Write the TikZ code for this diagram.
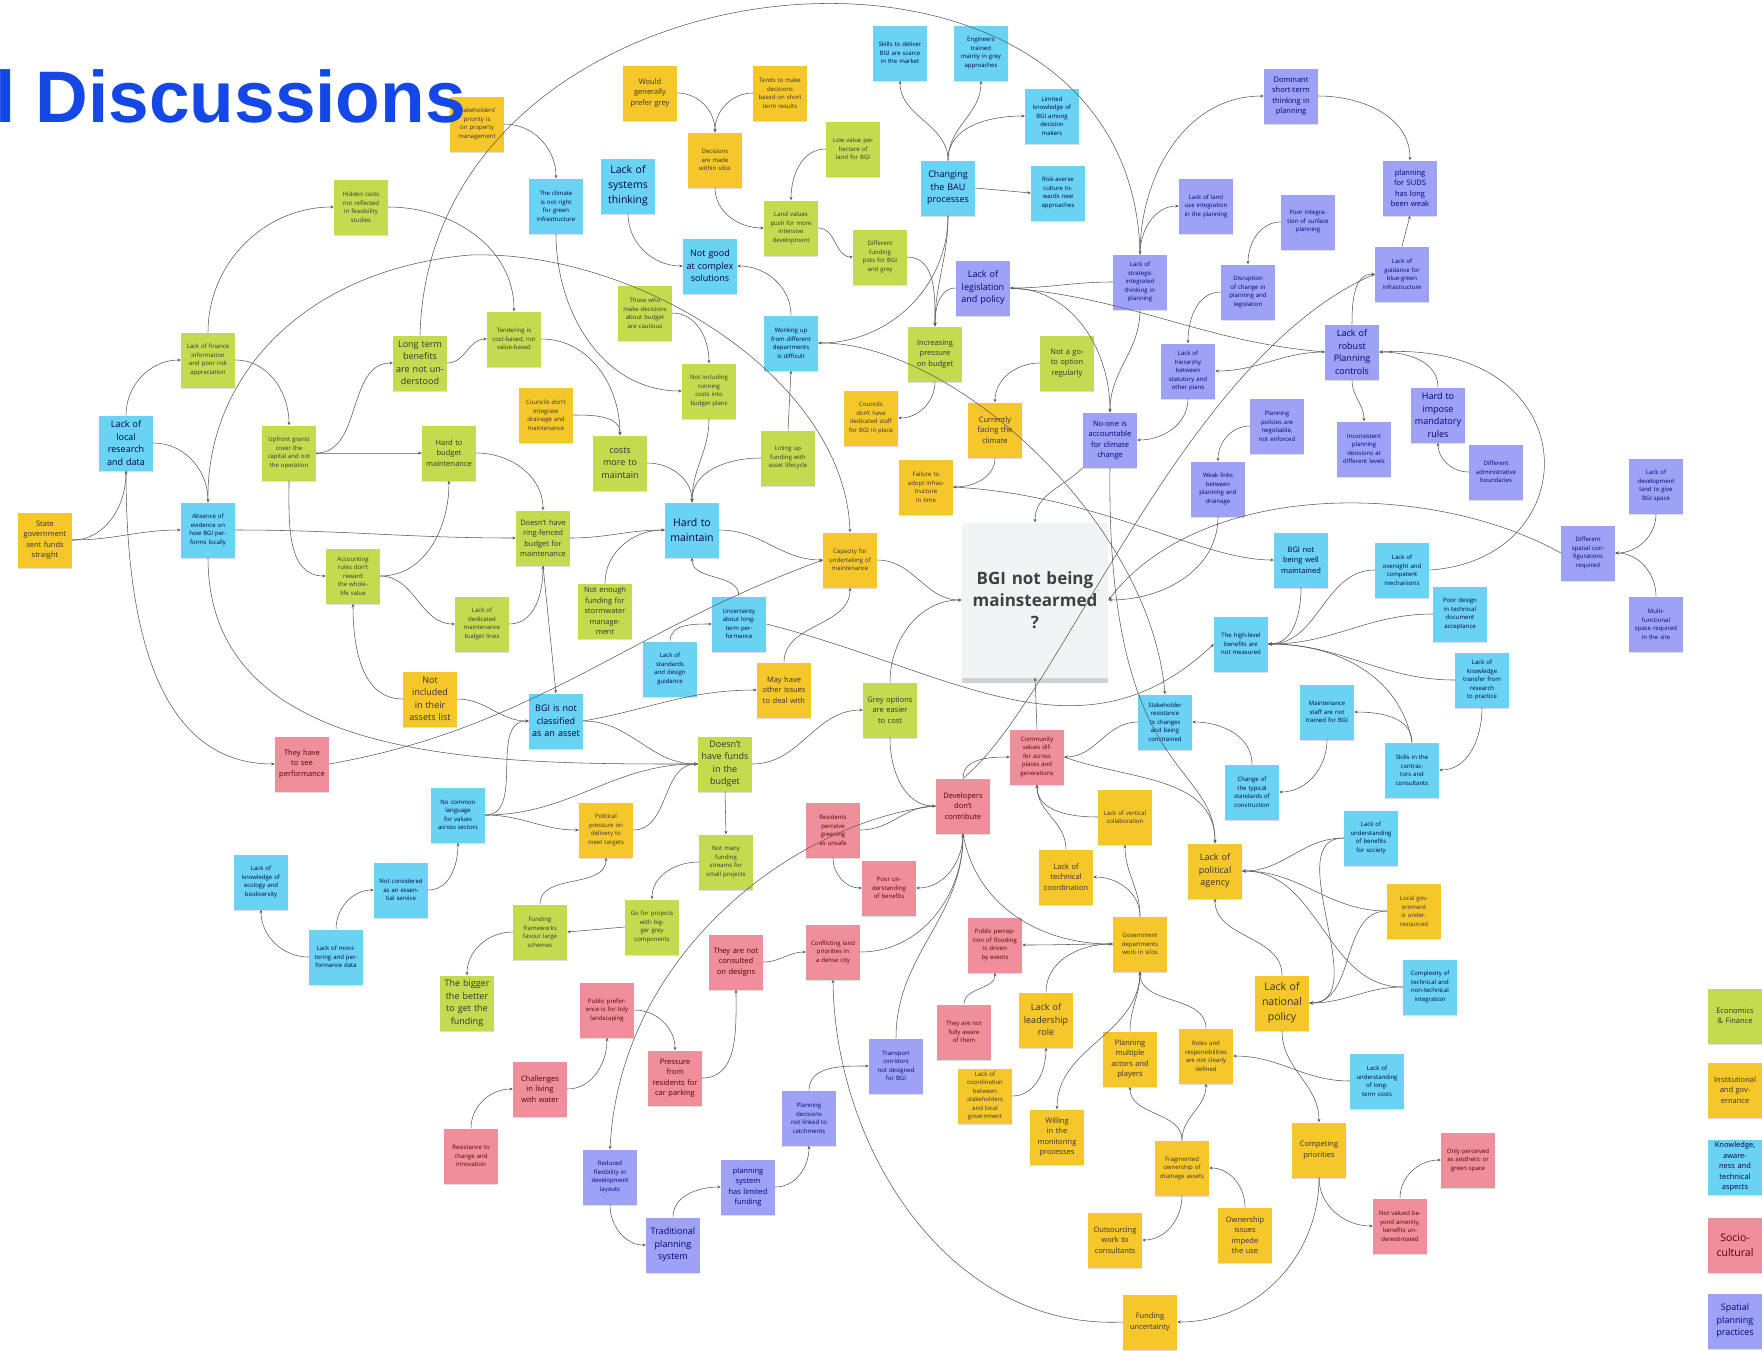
\documentclass[tikz,border=0pt]{standalone}
\usepackage{fontspec}
\setmainfont{Open Sans}
\newfontfamily\headfont{Liberation Sans}
\usetikzlibrary{arrows.meta,shadows}

\definecolor{ecogreen}{HTML}{C5DB4F}
\definecolor{instyellow}{HTML}{F6C72A}
\definecolor{knowblue}{HTML}{6AD3F4}
\definecolor{socpink}{HTML}{EF8F9B}
\definecolor{spatpurple}{HTML}{9EA2F4}
\definecolor{hubgrey}{HTML}{F2F3F5}
\definecolor{headblue}{HTML}{1447E6}
\definecolor{linkgrey}{HTML}{5A5A5A}

\begin{document}
\begin{tikzpicture}[
  x=1pt, y=-1pt,
  note/.style={rectangle, minimum width=54pt, minimum height=55pt, text width=44pt,
    align=center, inner sep=0pt, font=\fontsize{6}{8.5}\selectfont,
    drop shadow={shadow xshift=0pt, shadow yshift=-1.5pt, opacity=0.25}},
  eco/.style={note, fill=ecogreen, text=black!80},
  inst/.style={note, fill=instyellow, text=black!80},
  know/.style={note, fill=knowblue, text=blue!30!black},
  soc/.style={note, fill=socpink, text=red!35!black},
  spat/.style={note, fill=spatpurple, text=blue!50!black},
  txtm/.style={font=\fontsize{7.5}{10.5}\selectfont, text width=46pt},
  txtb/.style={font=\fontsize{9}{12.5}\selectfont, text width=48pt},
  txth/.style={font=\fontsize{10.5}{15}\selectfont, text width=50pt},
  hub/.style={rectangle, fill=hubgrey, minimum width=146pt, minimum height=155pt,
    text width=140pt, align=center, font=\bfseries\fontsize{17}{22}\selectfont, text=black!75,
    drop shadow={shadow xshift=0pt, shadow yshift=-5pt, opacity=0.35}},
  link/.style={draw=linkgrey, line width=0.55pt, -{Stealth[length=3.5pt,width=3pt]}},
]
\path[use as bounding box, fill=white] (0,0) rectangle (1762,1350);

\node[eco] (g1) at (361,207) {Hidden costs not reflected in feasibility studies};
\node[eco] (g2) at (208,360) {Lack of finance information and poor risk appreciation};
\node[eco,txtb] (g3) at (420,363) {Long term benefits are not understood};
\node[eco] (g4) at (289,453) {Upfront grants cover the capital and not the operation};
\node[eco,txtm] (g5) at (449,453) {Hard to budget maintenance};
\node[eco] (g6) at (514,339) {Tendering is cost-based, not value-based};
\node[eco] (g7) at (645,313) {Those who make decisions about budget are cautious};
\node[eco] (g8) at (709,391) {Not including running costs into budget plans};
\node[eco,txtb] (g9) at (620,463) {costs more to maintain};
\node[eco] (g10) at (788,458) {Lining up funding with asset lifecycle};
\node[eco] (g11) at (853,149) {Low value per hectare of land for BGI};
\node[eco] (g12) at (791,228) {Land values push for more intensive development};
\node[eco] (g13) at (880,257) {Different funding pots for BGI and grey};
\node[eco,txtm] (g14) at (935,354) {Increasing pressure on budget};
\node[eco,txtm] (g15) at (1067,363) {Not a go-to option regularly};
\node[eco,txtm] (g16) at (543,538) {Doesn't have ring-fenced budget for maintenance};
\node[eco] (g17) at (353,576) {Accounting rules don't reward the whole-life value};
\node[eco] (g18) at (482,624) {Lack of dedicated maintenance budget lines};
\node[eco,txtm] (g19) at (605,611) {Not enough funding for stormwater management};
\node[eco,txtb] (g20) at (725,764) {Doesn't have funds in the budget};
\node[eco,txtm] (g21) at (890,710) {Grey options are easier to cost};
\node[eco] (g22) at (726,862) {Not many funding streams for small projects};
\node[eco] (g23) at (652,927) {Go for projects with bigger grey components};
\node[eco] (g24) at (540,932) {Funding frameworks favour large schemes};
\node[eco,txtb] (g25) at (467,1003) {The bigger the better to get the funding};

\node[inst,txtm] (y1) at (45,540) {State government sent funds straight};
\node[inst] (y2) at (477,124) {Stakeholders' priority is on property management};
\node[inst,txtm] (y3) at (650,93) {Would generally prefer grey};
\node[inst] (y4) at (780,93) {Tends to make decisions based on short term results};
\node[inst] (y5) at (715,160) {Decisions are made within silos};
\node[inst] (y6) at (546,415) {Councils don't integrate drainage and maintenance};
\node[inst] (y7) at (871,418) {Councils don't have dedicated staff for BGI in place};
\node[inst,txtm] (y8) at (995,430) {Currently facing the climate};
\node[inst] (y9) at (926,487) {Failure to adopt infrastructure in time};
\node[inst] (y10) at (850,560) {Capacity for undertaking of maintenance};
\node[inst,txtb] (y11) at (430,699) {Not included in their assets list};
\node[inst,txtm] (y12) at (784,690) {May have other issues to deal with};
\node[inst] (y13) at (606,830) {Political pressure on delivery to meet targets};
\node[inst] (y14) at (1125,817) {Lack of vertical collaboration};
\node[inst,txtm] (y15) at (1066,877) {Lack of technical coordination};
\node[inst,txtb] (y16) at (1215,871) {Lack of political agency};
\node[inst] (y17) at (1414,911) {Local government is under-resourced};
\node[inst] (y18) at (1140,944) {Government departments work in silos};
\node[inst,txtb] (y19) at (1046,1020) {Lack of leadership role};
\node[inst] (y20) at (985,1096) {Lack of coordination between stakeholders and local government};
\node[inst,txtm] (y21) at (1130,1059) {Planning multiple actors and players};
\node[inst] (y22) at (1206,1056) {Roles and responsibilities are not clearly defined};
\node[inst,txth] (y23) at (1282,1003) {Lack of national policy};
\node[inst,txtm] (y24) at (1057,1137) {Willing in the monitoring processes};
\node[inst] (y25) at (1182,1168) {Fragmented ownership of drainage assets};
\node[inst,txtm] (y26) at (1319,1150) {Competing priorities};
\node[inst,txtm] (y27) at (1115,1240) {Outsourcing work to consultants};
\node[inst,txtm] (y28) at (1245,1235) {Ownership issues impede the use};
\node[inst,txtm] (y29) at (1150,1322) {Funding uncertainty};

\node[know,txtb] (b1) at (126,443) {Lack of local research and data};
\node[know] (b2) at (208,530) {Absence of evidence on how BGI performs locally};
\node[know] (b3) at (556,206) {The climate is not right for green infrastructure};
\node[know,txth] (b4) at (628,186) {Lack of systems thinking};
\node[know,txtb] (b5) at (710,266) {Not good at complex solutions};
\node[know] (b6) at (791,343) {Working up from different departments is difficult};
\node[know] (b7) at (900,53) {Skills to deliver BGI are scarce in the market};
\node[know] (b8) at (981,53) {Engineers trained mainly in grey approaches};
\node[know] (b9) at (1052,116) {Limited knowledge of BGI among decision makers};
\node[know,txtb] (b10) at (948,188) {Changing the BAU processes};
\node[know] (b11) at (1058,193) {Risk-averse culture towards new approaches};
\node[know,txth] (b12) at (692,530) {Hard to maintain};
\node[know] (b13) at (739,624) {Uncertainty about long-term performance};
\node[know] (b14) at (670,669) {Lack of standards and design guidance};
\node[know,txtb] (b15) at (556,721) {BGI is not classified as an asset};
\node[know] (b16) at (458,815) {No common language for values across sectors};
\node[know] (b17) at (261,882) {Lack of knowledge of ecology and biodiversity};
\node[know] (b18) at (401,890) {Not considered as an essential service};
\node[know] (b19) at (336,957) {Lack of monitoring and performance data};
\node[know,txtm] (b20) at (1301,560) {BGI not being well maintained};
\node[know] (b21) at (1241,644) {The high-level benefits are not measured};
\node[know] (b22) at (1165,722) {Stakeholder resistance to changes and being constrained};
\node[know] (b23) at (1252,792) {Change of the typical standards of construction};
\node[know] (b24) at (1402,570) {Lack of oversight and competent mechanisms};
\node[know] (b25) at (1460,614) {Poor design in technical document acceptance};
\node[know] (b26) at (1482,680) {Lack of knowledge transfer from research to practice};
\node[know] (b27) at (1327,712) {Maintenance staff are not trained for BGI};
\node[know] (b28) at (1412,770) {Skills in the contractors and consultants};
\node[know] (b29) at (1371,838) {Lack of understanding of benefits for society};
\node[know] (b30) at (1430,987) {Complexity of technical and non-technical integration};
\node[know] (b31) at (1377,1081) {Lack of understanding of long-term costs};

\node[soc,txtm] (p1) at (302,764) {They have to see performance};
\node[soc] (p2) at (1037,757) {Community values differ across places and generations};
\node[soc,txtm] (p3) at (963,806) {Developers don't contribute};
\node[soc] (p4) at (833,830) {Residents perceive greening as unsafe};
\node[soc] (p5) at (889,888) {Poor understanding of benefits};
\node[soc] (p6) at (995,945) {Public perception of flooding is driven by events};
\node[soc] (p7) at (964,1032) {They are not fully aware of them};
\node[soc,txtm] (p8) at (736,962) {They are not consulted on designs};
\node[soc] (p9) at (833,952) {Conflicting land priorities in a dense city};
\node[soc] (p10) at (607,1010) {Public preference is for tidy landscaping};
\node[soc,txtm] (p11) at (675,1078) {Pressure from residents for car parking};
\node[soc,txtm] (p12) at (540,1089) {Challenges in living with water};
\node[soc] (p13) at (471,1156) {Resistance to change and innovation};
\node[soc] (p14) at (1468,1160) {Only perceived as aesthetic or green space};
\node[soc] (p15) at (1400,1226) {Not valued beyond amenity, benefits underestimated};

\node[spat] (v1) at (1140,282) {Lack of strategic integrated thinking in planning};
\node[spat,txtb] (v2) at (983,288) {Lack of legislation and policy};
\node[spat] (v3) at (1206,206) {Lack of land use integration in the planning};
\node[spat,txtm] (v4) at (1291,96) {Dominant short-term thinking in planning};
\node[spat] (v5) at (1308,222) {Poor integration of surface planning};
\node[spat] (v6) at (1248,292) {Disruption of change in planning and legislation};
\node[spat] (v7) at (1188,371) {Lack of hierarchy between statutory and other plans};
\node[spat,txtm] (v8) at (1110,440) {No-one is accountable for climate change};
\node[spat] (v9) at (1277,426) {Planning policies are negotiable, not enforced};
\node[spat,txtm] (v10) at (1410,188) {planning for SUDS has long been weak};
\node[spat] (v11) at (1402,274) {Lack of guidance for blue-green infrastructure};
\node[spat,txtb] (v12) at (1352,352) {Lack of robust Planning controls};
\node[spat,txtb] (v13) at (1438,415) {Hard to impose mandatory rules};
\node[spat] (v14) at (1364,449) {Inconsistent planning decisions at different levels};
\node[spat] (v15) at (1496,472) {Different administrative boundaries};
\node[spat] (v16) at (1218,489) {Weak links between planning and drainage};
\node[spat] (v17) at (1656,486) {Lack of development land to give BGI space};
\node[spat] (v18) at (1588,553) {Different spatial configurations required};
\node[spat] (v19) at (1656,624) {Multi-functional space required in the site};
\node[spat] (v20) at (896,1066) {Transport corridors not designed for BGI};
\node[spat] (v21) at (809,1118) {Planning decisions not linked to catchments};
\node[spat] (v22) at (610,1177) {Reduced flexibility in development layouts};
\node[spat,txtm] (v23) at (748,1187) {planning system has limited funding};
\node[spat,txtb] (v24) at (673,1245) {Traditional planning system};

\node[eco,txtm] (leg1) at (1735,1016) {Economics \& Finance};
\node[inst,txtm] (leg2) at (1735,1090) {Institutional and governance};
\node[know,txtm] (leg3) at (1735,1167) {Knowledge, awareness and technical aspects};
\node[soc,txth] (leg4) at (1735,1245) {Socio-cultural};
\node[spat,txtb] (leg5) at (1735,1321) {Spatial planning practices};

\node[hub] (c) at (1035,600) {BGI not being\\mainstearmed\\?};

\draw[link] (g2.north) to[out=90,in=180] (g1.west);
\draw[link] (g1.east) to[out=0,in=90] (g6.north);
\draw[link] (g2.east) to[out=0,in=90] (g4.north);
\draw[link] (b1.north) to[out=90,in=180] (g2.west);
\draw[link] (b1.east) to[out=0,in=90] (b2.north);
\draw[link] (g3.north) .. controls (430,-60) and (1130,-120) .. (v1.north);
\draw[link] (b2.north) .. controls (205,380) and (300,270) .. (470,255) .. controls (640,250) and (845,380) .. (y10.north);
\draw[link] (y2.east) to[out=0,in=90] (b3.north);
\draw[link] (y3.east) to[out=0,in=90] (y5.north);
\draw[link] (y4.west) to[out=180,in=90] (y5.north);
\draw[link] (y5.south) to[out=-90,in=180] (g12.west);
\draw[link] (g11.west) to[out=180,in=90] (g12.north);
\draw[link] (g12.east) to[out=0,in=180] (g13.west);
\draw[link] (b4.south) to[out=-90,in=180] (b5.west);
\draw[link] (b6.north) to[out=90,in=0] (b5.east);
\draw[link] (g7.east) to[out=0,in=90] (g8.north);
\draw[link] (g6.east) to[out=0,in=90] (g9.north);
\draw[link] (y6.east) to[out=0,in=90] (g9.north);
\draw[link] (g3.east) to[out=0,in=180] (g6.west);
\draw[link] (g4.east) to[out=0,in=180] (g3.west);
\draw[link] (g4.east) to[out=0,in=180] (g5.west);
\draw[link] (g4.south) to[out=-90,in=180] (g17.west);
\draw[link] (g17.east) to[out=0,in=-90] (g5.south);
\draw[link] (g17.east) to[out=0,in=180] (g18.west);
\draw[link] (g5.east) to[out=0,in=90] (g16.north);
\draw[link] (b2.east) to[out=0,in=180] (g16.west);
\draw[link] (y1.east) to[out=0,in=180] (b2.west);
\draw[link] (y1.east) to[out=0,in=-90] (b1.south);
\draw[link] (b1.south) to[out=-90,in=180] (p1.west);
\draw[link] (b2.south) to[out=-90,in=180] (g20.west);
\draw[link] (p1.east) to[out=10,in=200] (y10.west);
\draw[link] (y11.west) to[out=180,in=-90] (g17.south);
\draw[link] (y11.east) to[out=0,in=180] (b15.west);
\draw[link] (g18.east) to[out=0,in=-90] (g16.south);
\draw[link] (g16.south) -- (b15.north);
\draw[link] (g19.north) to[out=90,in=180] (b12.west);
\draw[link] (g16.east) to[out=0,in=180] (b12.west);
\draw[link] (g9.east) to[out=0,in=90] (b12.north);
\draw[link] (g8.south) to[out=-90,in=90] (b12.north);
\draw[link] (g10.west) to[out=180,in=90] (b12.north);
\draw[link] (b13.north) to[out=90,in=-90] (b12.south);
\draw[link] (b12.east) to[out=0,in=180] (y10.west);
\draw[link] (b14.north) to[out=90,in=180] (b13.west);
\draw[link] (b13.east) .. controls (950,670) and (1080,770) .. (b21.west);
\draw[link] (y12.north) to[out=90,in=-90] (y10.south);
\draw[link] (b15.east) to[out=10,in=180] (y12.west);
\draw[link] (b15.east) to[out=0,in=180] (g20.west);
\draw[link] (g20.east) to[out=0,in=180] (g21.west);
\draw[link] (g20.south) -- (g22.north);
\draw[link] (b16.east) to[out=0,in=180] (g20.west);
\draw[link] (b16.east) to[out=0,in=180] (b15.west);
\draw[link] (b16.east) to[out=0,in=180] (y13.west);
\draw[link] (y13.east) to[out=0,in=180] (g20.west);
\draw[link] (b18.east) to[out=0,in=-90] (b16.south);
\draw[link] (b19.north) to[out=90,in=180] (b18.west);
\draw[link] (b19.west) to[out=180,in=-90] (b17.south);
\draw[link] (g22.west) to[out=180,in=90] (g23.north);
\draw[link] (g23.west) -- (g24.east);
\draw[link] (g24.west) to[out=180,in=90] (g25.north);
\draw[link] (g24.north) to[out=90,in=-90] (y13.south);
\draw[link] (p3.west) .. controls (800,820) and (620,950) .. (v22.north);
\draw[link] (p3.north) .. controls (1060,700) and (1180,360) .. (v11.west);
\draw[link] (b10.north) to[out=90,in=-90] (b7.south);
\draw[link] (b10.north) to[out=90,in=-90] (b8.south);
\draw[link] (b10.north) to[out=90,in=180] (b9.west);
\draw[link] (b10.east) -- (b11.west);
\draw[link] (b10.south) to[out=-90,in=90] (g14.north);
\draw[link] (b10.south) to[out=-90,in=0] (b6.east);
\draw[link] (g13.east) to[out=0,in=90] (g14.north);
\draw[link] (v2.west) to[out=180,in=90] (g14.north);
\draw[link] (g14.south) to[out=-90,in=0] (y7.east);
\draw[link] (g15.west) to[out=180,in=90] (y8.north);
\draw[link] (v1.west) to[out=180,in=0] (v2.east);
\draw[link] (v1.south) to[out=-90,in=90] (v8.north);
\draw[link] (v2.east) to[out=0,in=90] (v8.north);
\draw[link] (v2.east) to[out=-5,in=175] (v12.west);
\draw[link] (v12.west) to[out=180,in=0] (v7.east);
\draw[link] (v6.west) to[out=180,in=90] (v7.north);
\draw[link] (v5.west) to[out=180,in=90] (v6.north);
\draw[link] (v1.north) to[out=90,in=180] (v4.west);
\draw[link] (v1.north) to[out=90,in=180] (v3.west);
\draw[link] (v4.east) to[out=0,in=90] (v10.north);
\draw[link] (v11.north) -- (v10.south);
\draw[link] (v12.north) to[out=90,in=180] (v11.west);
\draw[link] (v12.south) to[out=-90,in=90] (v14.north);
\draw[link] (v13.north) to[out=90,in=0] (v12.east);
\draw[link] (b24.east) .. controls (1590,560) and (1590,340) .. (v12.east);
\draw[link] (v15.west) to[out=180,in=-90] (v13.south);
\draw[link] (v7.south) to[out=-90,in=0] (v8.east);
\draw[link] (v9.west) to[out=180,in=90] (v16.north);
\draw[link] (v16.south) to[out=-90,in=0] (c.east);
\draw[link] (v8.south) .. controls (1106,780) and (1215,760) .. (y16.north);
\draw[link] (b6.east) .. controls (950,340) and (1150,520) .. (b22.north);
\draw[link] (y8.south) to[out=-90,in=0] (y9.east);
\draw[link] (y9.east) .. controls (1100,495) and (1200,560) .. (b20.west);
\draw[link] (v8.south west) to[out=225,in=90] (c.north);
\draw[link] (y10.east) to[out=0,in=180] (c.west);
\draw[link] (g21.north) to[out=90,in=180] (c.west);
\draw[link] (v18.west) .. controls (1430,480) and (1200,480) .. (c.east);
\draw[link] (v17.south) to[out=-90,in=0] (v18.east);
\draw[link] (v19.north) to[out=90,in=0] (v18.east);
\draw[link] (b24.west) to[out=180,in=0] (b21.east);
\draw[link] (b25.west) to[out=180,in=0] (b21.east);
\draw[link] (b26.west) to[out=180,in=0] (b21.east);
\draw[link] (b28.north) to[out=100,in=0] (b21.east);
\draw[link] (b20.south) to[out=-90,in=0] (b21.east);
\draw[link] (b28.north) to[out=90,in=0] (b27.east);
\draw[link] (b26.south) to[out=-90,in=0] (b28.east);
\draw[link] (b27.south) to[out=-90,in=0] (b23.east);
\draw[link] (b23.north) to[out=90,in=0] (b22.east);
\draw[link] (b22.west) to[out=180,in=0] (p2.east);
\draw[link] (p2.north) -- (c.south);
\draw[link] (p3.north) to[out=90,in=180] (p2.west);
\draw[link] (g21.south) to[out=-90,in=180] (p3.west);
\draw[link] (p4.east) to[out=0,in=180] (p3.west);
\draw[link] (p4.south) to[out=-90,in=180] (p5.west);
\draw[link] (p2.east) to[out=-20,in=90] (y16.north);
\draw[link] (y14.west) to[out=180,in=-90] (p2.south);
\draw[link] (y18.north) to[out=90,in=0] (y15.east);
\draw[link] (y15.north) to[out=90,in=-90] (p2.south);
\draw[link] (y18.north) to[out=90,in=-90] (y14.south);
\draw[link] (v20.north) to[out=90,in=-90] (p3.south);
\draw[link] (p3.south) to[out=-90,in=0] (p5.east);
\draw[link] (y29.west) .. controls (950,1330) and (835,1150) .. (p9.south);
\draw[link] (y18.west) to[out=180,in=0] (p6.east);
\draw[link] (p3.south) to[out=-80,in=180] (y18.west);
\draw[link] (y19.north) to[out=90,in=180] (y18.west);
\draw[link] (p7.north) to[out=90,in=-90] (p6.south);
\draw[link] (y20.east) to[out=0,in=-90] (y19.south);
\draw[link] (y18.south) to[out=-90,in=90] (y24.north);
\draw[link] (y21.north) to[out=90,in=-90] (y18.south);
\draw[link] (y22.north) to[out=90,in=-90] (y18.south);
\draw[link] (y25.north) to[out=90,in=-90] (y21.south);
\draw[link] (y25.north) to[out=90,in=-90] (y22.south);
\draw[link] (y25.south) to[out=-90,in=0] (y27.east);
\draw[link] (y28.north) to[out=90,in=0] (y25.east);
\draw[link] (y26.south) to[out=-90,in=0] (y29.east);
\draw[link] (y23.north) to[out=90,in=-90] (y16.south);
\draw[link] (y23.south) to[out=-90,in=90] (y26.north);
\draw[link] (b31.west) to[out=180,in=0] (y22.east);
\draw[link] (y26.south) to[out=-90,in=180] (p15.west);
\draw[link] (p15.north) to[out=90,in=180] (p14.west);
\draw[link] (b29.west) to[out=180,in=0] (y16.east);
\draw[link] (y17.west) to[out=180,in=0] (y16.east);
\draw[link] (b30.west) to[out=180,in=0] (y16.east);
\draw[link] (b29.west) to[out=180,in=0] (y23.east);
\draw[link] (y17.west) to[out=180,in=0] (y23.east);
\draw[link] (b30.west) to[out=180,in=0] (y23.east);
\draw[link] (p13.north) to[out=90,in=180] (p12.west);
\draw[link] (p12.east) to[out=0,in=-90] (p10.south);
\draw[link] (p10.east) to[out=0,in=90] (p11.north);
\draw[link] (p11.east) to[out=0,in=-90] (p8.south);
\draw[link] (p8.east) to[out=0,in=180] (p9.west);
\draw[link] (p9.east) to[out=0,in=-90] (p3.south);
\draw[link] (v21.north) to[out=90,in=180] (v20.west);
\draw[link] (v22.south) to[out=-90,in=180] (v24.west);
\draw[link] (v24.north) to[out=90,in=180] (v23.west);
\draw[link] (v23.east) to[out=0,in=-90] (v21.south);
\draw[link] (g10.north) -- (b6.south);
\draw[link] (b3.south) to[out=-90,in=180] (g8.west);

\node[anchor=base west, inner sep=0pt, text=headblue,
  font=\headfont\bfseries\fontsize{73}{80}\selectfont] (ttl) at (-5,122) {l Discussions};
\end{tikzpicture}
\end{document}
